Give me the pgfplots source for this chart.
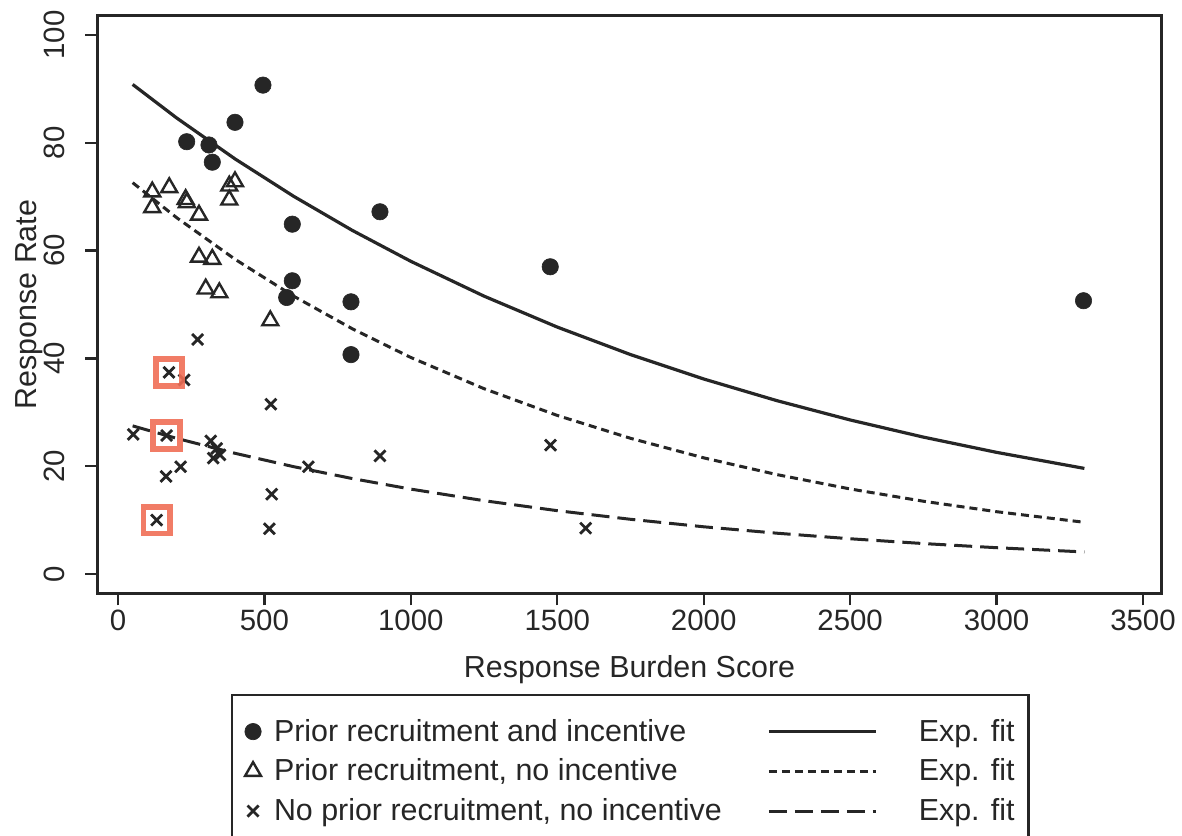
\documentclass[border=0pt]{standalone}
\usepackage{pgfplots}
\pgfplotsset{compat=1.18}
\usepackage{fontspec}
\setmainfont{Liberation Sans}
\definecolor{ink}{HTML}{262626}
\definecolor{hl}{HTML}{EF6E55}
\pgfplotsset{
  markleg/.style={legend image code/.code={\path[draw=none,fill=none] (0pt,-4pt) rectangle (21pt,4pt); \draw[##1] plot coordinates {(10.5pt,0pt)};}},
  lineleg/.style={legend image code/.code={\path[draw=none,fill=none] (0pt,-4pt) rectangle (98.5pt,4pt); \draw[##1] (23.5pt,0pt) -- (77pt,0pt);}},
}
\begin{document}
\begin{tikzpicture}[font=\fontsize{15.2}{18}\selectfont]
\begin{axis}[
  scale only axis, width=532.1pt, height=288.8pt,
  xmin=-70, xmax=3564, ymin=-3.58, ymax=103.58,
  xtick={0,500,...,3500}, ytick={0,20,...,100},
  tick align=outside, major tick length=6pt, tick pos=left,
  axis line style={ink, line width=1.3pt},
  every tick/.style={ink, line width=1.1pt},
  tick label style={font=\fontsize{14.7}{17}\selectfont, text=ink},
  /pgf/number format/assume math mode=true,
  /pgf/number format/set thousands separator={},
  xticklabel style={yshift=1pt},
  yticklabel style={rotate=90, anchor=south, inner ysep=10pt},
  xlabel={Response Burden Score}, ylabel={Response Rate},
  xlabel style={at={(axis description cs:0.5,-0.1454)}, anchor=base, text=ink},
  ylabel style={at={(axis description cs:-0.0569,0.5)}, anchor=base, text=ink},
  legend columns=2,
  legend cell align=left,
  legend style={at={(axis description cs:0.1254,-0.1743)}, anchor=north west,
    draw=ink, line width=1.1pt, inner xsep=0pt, inner ysep=12pt,
    column sep=0pt, row sep=7.35pt,
    nodes={inner xsep=0pt, inner ysep=0pt, text depth=0.15em, text=ink},
    font=\fontsize{15.2}{18}\selectfont},
]
% Prior recruitment and incentive
\addplot[only marks, mark=*, mark size=4.1pt, ink, mark options={fill=ink, draw=ink, line width=0.3pt}, markleg]
  coordinates {(495,90.7)(399.5,83.8)(234.6,80.2)(310.7,79.6)(322,76.4)(894.6,67.2)(595.2,64.9)
  (595.2,54.4)(576,51.3)(795.6,50.5)(795.6,40.7)(1476,57.0)(3297,50.7)};
\addlegendentry{Prior recruitment and incentive}
\addplot[ink, line width=1.6pt, lineleg]
  coordinates {(50,90.83)(200,84.62)(400,77.00)(600,70.07)(800,63.75)(1000,58.01)(1250,51.55)
  (1500,45.81)(1750,40.71)(2000,36.18)(2250,32.16)(2500,28.58)(2750,25.40)(3000,22.57)(3300,19.59)};
\addlegendentry{Exp. fit\hspace*{7pt}}
% Prior recruitment, no incentive
\addplot[only marks, mark=triangle, mark size=4.6pt, ink, mark options={line width=1.2pt}, markleg]
  coordinates {(117,70.9)(175,71.7)(117,68.0)(231,69.5)(235,68.9)(276.6,66.6)(380,72.0)(399.5,72.8)
  (380,69.4)(276.6,58.8)(322,58.4)(299.5,52.9)(346,52.2)(520,47.0)};
\addlegendentry{Prior recruitment, no incentive}
\addplot[ink, line width=1.5pt, dash pattern=on 4pt off 2.5pt, lineleg]
  coordinates {(50,72.60)(200,66.12)(400,58.38)(600,51.54)(800,45.50)(1000,40.17)(1250,34.38)
  (1500,29.42)(1750,25.18)(2000,21.55)(2250,18.44)(2500,15.78)(2750,13.50)(3000,11.56)(3300,9.59)};
\addlegendentry{Exp. fit\hspace*{7pt}}
% No prior recruitment, no incentive
\addplot[only marks, mark=x, mark size=3.9pt, ink, mark options={line width=1.4pt}, markleg]
  coordinates {(272,43.5)(174,37.4)(226,36.0)(522,31.5)(52,25.9)(166,25.7)(316.5,24.7)(337,23.3)
  (348,22.1)(325,21.5)(214,19.9)(164,18.1)(650,19.9)(894.6,21.9)(525,14.8)(132,10.0)(517,8.4)
  (1477,23.9)(1597,8.5)};
\addlegendentry{No prior recruitment, no incentive}
\addplot[ink, line width=1.5pt, dash pattern=on 9pt off 4pt, lineleg]
  coordinates {(50,27.48)(200,25.17)(400,22.39)(600,19.91)(800,17.71)(1000,15.75)(1250,13.60)
  (1500,11.75)(1750,10.15)(2000,8.76)(2250,7.57)(2500,6.54)(2750,5.65)(3000,4.88)(3300,4.09)};
\addlegendentry{Exp. fit\hspace*{7pt}}
% highlight boxes
\addplot[only marks, mark=square, mark size=6.65pt, hl, mark options={line width=2.85pt, draw opacity=0.9}, forget plot]
  coordinates {(174,37.4)(166,25.7)(132,10.0)};
\end{axis}
\pgfresetboundingbox
\path ([shift={(-48.75pt,-120.85pt)}]current axis.south west) rectangle ([shift={(10.15pt,7.85pt)}]current axis.north east);
\end{tikzpicture}
\end{document}
